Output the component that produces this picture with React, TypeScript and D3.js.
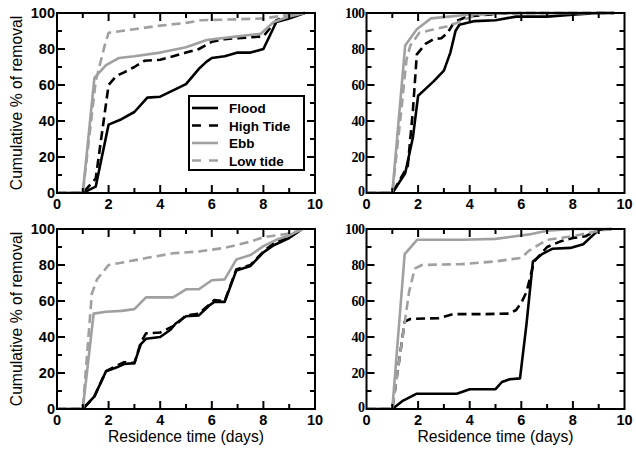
import React from "react";
import * as d3 from "d3";

type Pt = [number, number];

// Panel A (top-left)
const floodA: Pt[] = [[0,0],[1,0],[1.5,3.5],[2,38],[2.5,41],[3,45],[3.5,53],[4,53.5],[4.5,57],[5,60.5],[5.5,69],[5.8,73],[6,75],[6.5,76],[7,78],[7.5,78],[8,80],[8.5,95],[9,97],[9.6,100]];
const highA: Pt[] = [[0,0],[1,0],[1.5,8],[2,60],[2.3,65],[2.6,67],[3,70],[3.4,73.5],[4,74],[5,78],[5.5,80],[6,84],[6.5,85.5],[7,86],[8,87],[8.5,96],[9,98],[9.6,100]];
const ebbA: Pt[] = [[0,0],[1,0],[1.45,64],[1.9,71],[2.4,75],[3,76],[4,78],[5,81],[5.8,85],[7,87],[7.9,88.5],[8.4,95],[9,98],[9.6,100]];
const lowA: Pt[] = [[0,0],[1,0],[1.5,62],[1.85,82],[2,89],[3,91],[4,93],[5,94.5],[5.6,96],[7,96.5],[8,97],[9,99],[9.6,100]];

// Panel B (top-right)
const floodB: Pt[] = [[0,0],[1,0],[1.5,11],[1.8,31],[2,54],[2.3,58],[2.6,62],[3,68],[3.25,78],[3.45,90],[3.6,93.5],[4.2,95.5],[5,96],[5.8,98],[7,98],[8,99],[9,100],[9.6,100]];
const highB: Pt[] = [[0,0],[1,0],[1.6,15],[1.8,46],[1.95,77],[2.3,83],[2.6,85.5],[2.9,86],[3.15,89],[3.4,95],[3.9,98],[5,99.5],[6,100],[9.6,100]];
const ebbB: Pt[] = [[0,0],[1,0],[1.5,82],[1.95,91],[2.5,97],[3.2,98],[3.9,99],[4.6,99.6],[6,100],[9.6,100]];
const lowB: Pt[] = [[0,0],[1,0],[1.35,46],[1.55,74],[1.7,82],[2.05,89],[2.5,90.5],[3.1,92.5],[3.5,94.5],[3.9,97],[4.3,99],[5.5,100],[9.6,100]];

// Panel C (bottom-left)
const floodC: Pt[] = [[0,0],[1,0],[1.45,7],[1.9,21],[2.3,23],[2.6,25],[3,25.5],[3.25,36],[3.45,39],[4,40],[4.4,44],[4.6,47.5],[5,51.5],[5.5,52],[5.9,57.5],[6.1,59.5],[6.5,59.5],[6.95,77],[7.5,79.5],[8,87],[8.4,91],[9,95],[9.5,100]];
const highC: Pt[] = [[0,0],[1,0],[1.45,7],[1.9,21],[2.3,24],[2.6,26],[3,25.5],[3.25,37],[3.45,42],[4,42.5],[4.5,46],[4.7,48],[5,52],[5.5,53],[5.9,58],[6.1,60.5],[6.5,60],[6.95,77.5],[7.5,80],[8,87.5],[8.4,92],[9,95.5],[9.5,100]];
const ebbC: Pt[] = [[0,0],[1,0],[1.42,53],[1.9,54],[2.5,54.5],[3,55.5],[3.45,62],[4.5,62],[5,66.5],[5.5,66.5],[6,71.5],[6.5,72],[6.95,83],[7.5,85.5],[8,90.5],[8.5,94],[9,96.5],[9.5,100]];
const lowC: Pt[] = [[0,0],[1,0],[1.35,64],[1.55,72],[2,80],[2.6,81.5],[3.5,84],[4.5,86.5],[5.5,87.5],[6.5,89.5],[7.5,93],[8,95.5],[9,97.5],[9.6,100]];

// Panel D (bottom-right)
const floodD: Pt[] = [[0,0],[1,0],[1.42,4.7],[1.95,8.5],[3.5,8.5],[4,11],[5,11],[5.25,15],[5.55,16.5],[5.95,17],[6.2,47],[6.45,82],[6.8,86],[7.2,89],[7.9,89.5],[8.4,91.5],[9,99.5],[9.5,100]];
const highD: Pt[] = [[0,0],[1,0],[1.48,48.5],[1.7,50],[2.8,50.5],[3.35,52.7],[4.5,52.7],[5.55,53],[5.8,55],[6,59],[6.2,65],[6.5,82],[7,90],[7.5,93],[8,95],[8.5,96],[9,100]];
const ebbD: Pt[] = [[0,0],[1,0],[1.48,86],[1.96,94],[3.7,94],[5,94.5],[6.3,97],[7,99],[8,100],[9.5,100]];
const lowD: Pt[] = [[0,0],[1,0],[1.65,65],[1.87,78],[2.15,80],[3.7,80.5],[5,82],[6,84],[6.3,88],[7,94],[8,96],[9,99],[9.5,100]];

const seriesNames = ["Flood", "High Tide", "Ebb", "Low tide"];
const xTicksMajor = [0, 2, 4, 6, 8, 10];
const yTicksMajor = [0, 20, 40, 60, 80, 100];
const xLabel = "Residence time (days)";
const yLabel = "Cumulative % of removal";

const styles = [
  { color: "#000", dash: "none" },
  { color: "#000", dash: "9,5" },
  { color: "#a0a0a0", dash: "none" },
  { color: "#a0a0a0", dash: "9,5" },
];

const SANS = "'Liberation Sans', Arial, sans-serif";
const SERIF = "'Liberation Serif', 'Times New Roman', serif";

type PanelProps = {
  left: number; right: number; top: number; bottom: number;
  data: Pt[][];
  serifY: boolean;
  showYLabel: boolean;
  showXLabel: boolean;
  legend: boolean;
};

function Panel({ left, right, top, bottom, data, serifY, showYLabel, showXLabel, legend }: PanelProps) {
  const x = d3.scaleLinear().domain([0, 10]).range([left, right]);
  const y = d3.scaleLinear().domain([0, 100]).range([bottom, top]);
  const line = d3.line<Pt>().x(d => x(d[0])).y(d => y(d[1]));
  const xMinor = d3.range(0, 11, 1);
  const yMinor = d3.range(0, 101, 10);
  const major = 8, minor = 5;
  const ticks: JSX.Element[] = [];
  xMinor.forEach(v => {
    const len = v % 2 === 0 ? major : minor;
    if (v === 0 || v === 10) return;
    ticks.push(<line key={"xb" + v} x1={x(v)} x2={x(v)} y1={bottom} y2={bottom - len} />);
    ticks.push(<line key={"xt" + v} x1={x(v)} x2={x(v)} y1={top} y2={top + len} />);
  });
  yMinor.forEach(v => {
    const len = v % 20 === 0 ? major : minor;
    if (v === 0 || v === 100) return;
    ticks.push(<line key={"yl" + v} x1={left} x2={left + len} y1={y(v)} y2={y(v)} />);
    ticks.push(<line key={"yr" + v} x1={right} x2={right - len} y1={y(v)} y2={y(v)} />);
  });
  const clipId = `clip-${Math.round(left)}-${top}`;
  return (
    <g>
      <defs>
        <clipPath id={clipId}>
          <rect x={left} y={top - 2} width={right - left} height={bottom - top + 3} />
        </clipPath>
      </defs>
      <g clipPath={`url(#${clipId})`}>
        {data.map((d, i) => (
          <path key={i} d={line(d) || ""} fill="none" stroke={styles[i].color}
            strokeWidth={2.6} strokeDasharray={styles[i].dash} strokeLinejoin="round" />
        ))}
      </g>
      <g stroke="#000" strokeWidth={2}>{ticks}</g>
      <rect x={left} y={top} width={right - left} height={bottom - top} fill="none" stroke="#000" strokeWidth={2} />
      {xTicksMajor.map(v => (
        <text key={"xl" + v} x={x(v)} y={bottom + 16} textAnchor="middle"
          fontFamily={SANS} fontSize={14.5} fontWeight="bold">{v}</text>
      ))}
      {yTicksMajor.map(v => (
        <text key={"yl" + v} x={left - 2} y={y(v) + (serifY && v === 0 ? 3 : 5)} textAnchor="end"
          fontFamily={serifY ? SERIF : SANS} fontSize={serifY ? 14 : 14.5} fontWeight="bold"
          letterSpacing={serifY ? -0.5 : 0}>{v}</text>
      ))}
      {showYLabel && (
        <text transform={`translate(${left - 35},${(top + bottom) / 2}) rotate(-90)`} textAnchor="middle"
          fontFamily={SANS} fontSize={15.7}>{yLabel}</text>
      )}
      {showXLabel && (
        <text x={(left + right) / 2} y={bottom + 33} textAnchor="middle"
          fontFamily={SANS} fontSize={15.7}>{xLabel}</text>
      )}
      {legend && (
        <g>
          <rect x={189} y={96} width={115} height={74} fill="#fff" stroke="#000" strokeWidth={2} />
          {seriesNames.map((n, i) => {
            const yy = 108 + i * 17.5;
            return (
              <g key={n}>
                <line x1={192} x2={218} y1={yy} y2={yy} stroke={styles[i].color} strokeWidth={2.6}
                  strokeDasharray={i % 2 === 1 ? "9,8" : "none"} />
                <text x={229} y={yy + 5} fontFamily={SANS} fontSize={13.5} fontWeight="bold">{n}</text>
              </g>
            );
          })}
        </g>
      )}
    </g>
  );
}

export default function App() {
  return (
    <svg width={636} height={451} style={{ position: "absolute", left: 0, top: 0, background: "#fff" }}>
      <rect width={636} height={451} fill="#fff" />
      <Panel left={57} right={315} top={13} bottom={193} data={[floodA, highA, ebbA, lowA]}
        serifY={false} showYLabel showXLabel={false} legend />
      <Panel left={366.5} right={624.5} top={13} bottom={193} data={[floodB, highB, ebbB, lowB]}
        serifY showYLabel={false} showXLabel={false} legend={false} />
      <Panel left={57} right={315} top={229} bottom={409} data={[floodC, highC, ebbC, lowC]}
        serifY={false} showYLabel showXLabel legend={false} />
      <Panel left={366.5} right={624.5} top={229} bottom={409} data={[floodD, highD, ebbD, lowD]}
        serifY showYLabel={false} showXLabel legend={false} />
    </svg>
  );
}
